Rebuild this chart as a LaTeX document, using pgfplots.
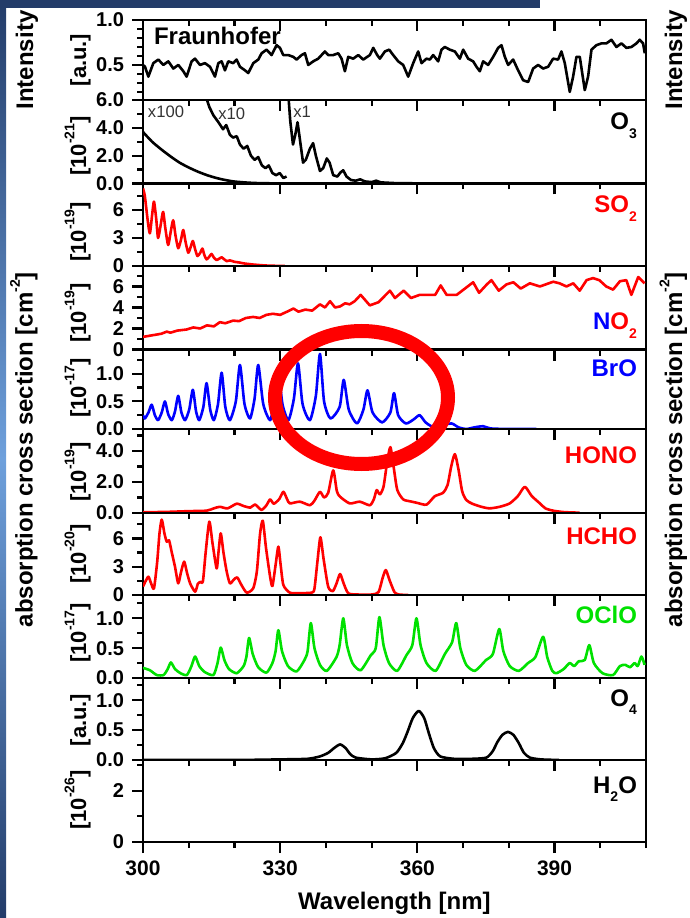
\documentclass[border=0pt]{standalone}
\usepackage{fontspec}
\setmainfont{Liberation Sans}
\usepackage{pgfplots}
\pgfplotsset{compat=1.18}
\definecolor{cred}{RGB}{255,0,0}
\definecolor{cblue}{RGB}{0,0,255}
\definecolor{cgreen}{RGB}{0,225,0}
\definecolor{navyA}{RGB}{35,60,105}
\definecolor{navyB}{RGB}{110,160,220}
\newcommand\sub[1]{\raisebox{-0.7ex}{\fontsize{7}{8}\selectfont #1}}
\newcommand\sups[1]{\raisebox{1.0ex}{\fontsize{7}{8}\selectfont #1}}
\pgfplotsset{
  panel/.style 2 args={at={(71.5pt,#1)}, anchor=south west, width=251.5pt, height=#2, scale only axis,
    xmin=300, xmax=410, xtick={300,330,360,390}, minor xtick={310,320,340,350,370,380,400,410},
    xticklabel=\empty, xtick pos=left, ytick pos=left, tick align=outside,
    major tick length=5.5pt, minor tick length=3pt,
    line width=1.3pt, tick style={line width=1.1pt, black},
    minor y tick num=1,
    yticklabel style={font=\fontsize{10}{12}\selectfont\bfseries},
    /pgf/number format/assume math mode=true},
  dec1/.style={yticklabel style={/pgf/number format/fixed, /pgf/number format/fixed zerofill, /pgf/number format/precision=1}},
  int0/.style={yticklabel style={/pgf/number format/fixed, /pgf/number format/precision=0}},
  dat/.style={no markers, line width=1.3pt, line join=round},
  sm/.style={smooth, tension=0.4},
}
\begin{document}
\begin{tikzpicture}
\useasboundingbox (0,0) rectangle (345pt,459pt);
\shade[top color=navyA, bottom color=navyA, middle color=navyB] (0,0) rectangle (3pt,459pt);
\fill[navyA] (0,455pt) rectangle (270pt,459pt);

% 1 Fraunhofer
\begin{axis}[panel={409pt}{40pt}, ymin=0.11, ymax=1.0, ytick={0,0.5,1.0}, minor y tick num=4, dec1]
\addplot[dat, black] coordinates {(300,0.50)(300.44,0.48)(301.17,0.37)(302.26,0.52)(303.35,0.56)(304.44,0.50)(305.54,0.54)(306.63,0.46)(307.72,0.50)(308.82,0.43)(309.54,0.37)(310.64,0.54)(311.37,0.57)(312.46,0.50)(313.55,0.52)(314.64,0.48)(315.74,0.37)(316.47,0.52)(317.20,0.54)(317.92,0.44)(318.65,0.54)(319.74,0.52)(320.47,0.56)(321.20,0.48)(322.30,0.44)(323.02,0.41)(324.12,0.52)(325.21,0.56)(325.94,0.63)(327.03,0.67)(328.12,0.61)(329.22,0.72)(329.95,0.69)(330.67,0.61)(331.77,0.61)(332.86,0.59)(333.59,0.56)(334.68,0.61)(335.41,0.63)(336.14,0.50)(337.23,0.54)(338.32,0.57)(339.78,0.65)(340.51,0.61)(341.60,0.61)(342.70,0.63)(343.42,0.57)(344.15,0.43)(344.88,0.59)(345.97,0.57)(347.07,0.61)(348.16,0.56)(349.62,0.61)(350.35,0.69)(351.22,0.61)(351.80,0.57)(352.90,0.65)(353.84,0.67)(354.72,0.61)(355.81,0.54)(356.90,0.50)(358.00,0.37)(359.09,0.52)(360.18,0.65)(360.91,0.52)(362.00,0.57)(362.73,0.56)(363.46,0.61)(364.55,0.54)(365.28,0.67)(366.01,0.70)(367.10,0.67)(368.20,0.65)(369.29,0.57)(370.02,0.67)(371.11,0.57)(372.20,0.54)(372.93,0.48)(373.66,0.43)(374.39,0.54)(375.48,0.50)(376.58,0.59)(377.67,0.69)(378.40,0.72)(379.13,0.59)(379.85,0.50)(380.95,0.56)(382.04,0.44)(383.13,0.33)(384.23,0.31)(385.32,0.46)(386.41,0.50)(387.50,0.46)(388.60,0.48)(389.69,0.57)(390.78,0.56)(391.51,0.65)(392.24,0.52)(393.33,0.20)(394.06,0.37)(394.79,0.59)(395.52,0.59)(396.61,0.22)(397.34,0.37)(398.07,0.67)(399.16,0.72)(400.26,0.74)(401.35,0.74)(402.44,0.78)(403.53,0.70)(404.63,0.74)(405.72,0.69)(406.81,0.70)(407.91,0.74)(408.63,0.78)(409.36,0.74)(409.73,0.63)};
\end{axis}
\begin{axis}[panel={409pt}{40pt}, ymin=0.11, ymax=1.0, ytick=\empty, xtick pos=right, tick align=inside]
\end{axis}

% 2 O3
\begin{axis}[panel={367.25pt}{41.75pt}, ymin=0, ymax=6, ytick={0,2,4,6}, dec1]
\addplot[dat, black, sm] coordinates {(300,3.7)(302,3.0)(304,2.45)(306,1.95)(308,1.5)(310,1.15)(312,0.85)(314,0.6)(316,0.4)(318,0.25)(320,0.14)(323,0.06)(326,0.02)(330,0.01)(335,0)};
\addplot[dat, black] coordinates {(313.7,6.3)(314.5,5.5)(315.4,4.9)(316.5,4.4)(317.5,3.9)(318.2,4.2)(319,3.5)(319.7,3.3)(320.5,3.4)(321.2,2.8)(322.0,2.5)(322.8,2.7)(323.6,2.0)(324.4,1.7)(325.2,1.9)(326.0,1.3)(326.8,1.1)(327.5,1.3)(328.3,0.75)(329.1,0.6)(329.9,0.75)(330.7,0.4)(331.4,0.5)};
\addplot[dat, black] coordinates {(331.8,6.3)(332.2,4.5)(332.8,2.8)(333.3,3.5)(333.8,4.4)(334.3,3.2)(335.0,1.5)(335.6,1.7)(336.5,2.5)(337.2,2.9)(337.8,2.0)(338.7,0.9)(339.4,1.1)(340.2,1.8)(340.8,1.5)(341.6,0.6)(342.5,0.5)(343.2,0.8)(343.8,0.95)(344.5,0.5)(345.5,0.25)(346.5,0.2)(347.5,0.3)(348.5,0.15)(350,0.1)(351,0.2)(352,0.08)(355,0.03)(360,0.01)(370,0)(380,0)(390,0)(400,0)(410,0)};
\end{axis}

% 3 SO2
\begin{axis}[panel={326pt}{41.25pt}, ymin=0, ymax=8.84, ytick={0,3,6,9}, int0]
\addplot[dat, cred, sm] coordinates {(300,8.3)(300.4,7.5)(301.0,5.0)(301.5,3.5)(302.0,5.5)(302.4,6.9)(302.9,5.0)(303.3,3.0)(303.9,4.5)(304.4,5.8)(304.9,4.0)(305.5,2.25)(306.0,3.5)(306.6,4.9)(307.1,3.3)(307.7,1.9)(308.3,2.8)(308.8,3.86)(309.3,2.6)(309.9,1.43)(310.4,2.0)(310.9,2.68)(311.4,1.8)(311.9,1.07)(312.5,1.4)(313.0,1.86)(313.4,1.2)(313.9,0.71)(314.5,1.0)(315.0,1.29)(315.5,0.9)(316.1,0.64)(316.7,0.8)(317.2,0.93)(317.8,0.7)(318.3,0.52)(319,0.6)(320,0.45)(321,0.38)(322,0.28)(323,0.22)(324,0.16)(325,0.12)(326,0.08)(327,0.05)(328,0.03)(330,0.01)(331,0)};
\end{axis}

% 4 NO2
\begin{axis}[panel={284.25pt}{41.75pt}, ymin=0, ymax=7.95, ytick={0,2,4,6,8}, int0]
\addplot[dat, cred] coordinates {(300,1.2)(302,1.35)(304,1.5)(305.2,1.7)(306,1.6)(307.5,1.8)(309.5,1.9)(311,2.1)(312.5,2.0)(314,2.3)(315.5,2.2)(316.8,2.6)(318,2.5)(319.7,2.75)(321,2.7)(322.5,3.0)(324.1,3.1)(325.5,3.0)(327,3.3)(328.4,3.4)(330,3.3)(331.5,3.6)(332.9,3.9)(334,3.6)(335.5,3.8)(337,3.7)(338.7,4.3)(339.8,4.0)(340.9,4.6)(342,4.0)(343.1,4.1)(344.2,4.4)(345.2,4.3)(346.3,4.6)(347.6,5.2)(349.6,4.2)(351.5,4.5)(354.0,5.6)(355.1,4.9)(357.0,5.6)(358.6,4.9)(360.5,5.2)(362.7,5.2)(363.9,5.2)(365.1,6.1)(366.4,5.2)(368.6,5.2)(370.4,5.8)(372.2,6.4)(373.5,5.4)(375.2,6.2)(376.2,6.6)(377.8,5.6)(379.5,6.2)(381,6.4)(382.6,5.8)(384.6,6.3)(386.8,6.0)(389.7,6.45)(391.1,6.3)(392.6,6.0)(394.1,6.3)(395.5,5.6)(397,6.6)(398.4,6.8)(399.8,6.6)(401.3,6.0)(402.8,5.7)(404.3,6.5)(405.7,6.6)(406.8,5.2)(408.3,6.9)(409.7,6.3)};
\end{axis}

% 5 BrO
\begin{axis}[panel={244.5pt}{39.75pt}, ymin=0, ymax=1.44, ytick={0,0.5,1.0,1.5}, dec1]
\addplot[dat, cblue, sm] coordinates {(300,0.25)(300.4,0.19)(301.2,0.3)(301.9,0.44)(302.6,0.25)(303.3,0.16)(304.1,0.3)(304.8,0.50)(305.5,0.27)(306.3,0.16)(307.0,0.32)(307.7,0.60)(308.4,0.3)(309.2,0.16)(310.1,0.35)(310.9,0.71)(311.6,0.32)(312.3,0.16)(313.2,0.4)(313.9,0.83)(314.7,0.35)(315.5,0.16)(316.4,0.45)(317.2,1.02)(318.0,0.4)(319.0,0.16)(320.3,0.5)(321.2,1.16)(322.2,0.45)(323.4,0.19)(324.4,0.55)(325.2,1.16)(326.3,0.45)(327.8,0.16)(328.7,0.5)(329.5,1.1)(330.5,0.45)(331.8,0.16)(333.0,0.55)(333.9,1.19)(334.9,0.45)(336.5,0.16)(337.8,0.6)(338.7,1.36)(339.6,0.5)(341.0,0.19)(343.0,0.4)(343.9,0.89)(345.0,0.35)(346.8,0.1)(348.2,0.35)(349.1,0.70)(350.2,0.3)(352.3,0.12)(354.1,0.3)(354.9,0.65)(355.8,0.25)(357.5,0.1)(359.3,0.18)(360.5,0.25)(361.8,0.12)(363.4,0.04)(365.5,0.07)(367.5,0.1)(369,0.03)(370.7,0.0)(372.5,0.03)(374.4,0.05)(376,0.01)(380,0.0)(386,0.0)};
\end{axis}

% 6 HONO
\begin{axis}[panel={202.5pt}{42pt}, ymin=0, ymax=5.42, ytick={0,2,4,6}, dec1]
\addplot[dat, cred, sm] coordinates {(300,0.05)(305,0.07)(310,0.12)(313.9,0.15)(315.5,0.3)(316.8,0.4)(318.5,0.3)(320.5,0.6)(322,0.45)(323.5,0.35)(324.5,0.55)(325.9,0.2)(327,0.5)(327.8,0.88)(328.6,0.6)(329.8,0.9)(330.7,1.37)(331.5,0.9)(332.1,0.62)(334.3,0.73)(336.5,0.5)(337.5,0.8)(338.7,1.37)(339.6,1.0)(340.5,1.3)(341.6,2.75)(342.4,1.4)(343.1,1.05)(345.2,0.62)(347.4,0.73)(349.6,0.5)(350.5,0.9)(351.1,1.48)(351.8,1.2)(352.6,1.7)(353.4,3.3)(354.1,4.25)(354.8,3.0)(355.6,1.5)(356.9,0.88)(358.5,0.75)(360,0.65)(362,0.54)(363.8,1.08)(365.6,1.3)(366.6,1.8)(367.4,3.0)(368.2,3.8)(369.0,2.8)(369.8,1.4)(370.7,0.84)(372,0.6)(374,0.4)(375.8,0.3)(378,0.4)(380.2,0.62)(382,1.1)(383.5,1.69)(385,1.1)(386.8,0.62)(388,0.3)(389.7,0.15)(392,0.06)(395.5,0.02)};
\end{axis}

% 7 HCHO
\begin{axis}[panel={161.5pt}{41pt}, ymin=0, ymax=8.7, ytick={0,3,6,9}, int0]
\addplot[dat, cred, sm] coordinates {(300,0.9)(300.6,1.5)(301.2,1.94)(301.8,1.2)(302.4,0.71)(303.1,3.5)(303.6,6.5)(304.1,8.0)(304.7,6.5)(305.2,5.65)(305.7,5.8)(306.3,4.5)(307.0,3.0)(307.7,1.24)(308.3,2.4)(309.0,3.54)(309.6,2.4)(310.3,1.24)(311.4,0.35)(312.0,1.2)(312.5,1.4)(313.1,1.45)(313.7,4.5)(314.5,7.78)(315.2,5.5)(316.1,2.83)(316.5,4.5)(317.0,6.54)(317.6,4.5)(318.3,2.5)(319.0,1.24)(319.8,1.6)(320.6,1.87)(321.6,1.0)(322.7,0.25)(324.1,0.71)(324.9,2.5)(325.6,6.5)(326.2,7.88)(326.9,5.0)(327.8,1.94)(328.3,0.95)(329.0,3.2)(329.6,5.13)(330.1,3.2)(330.7,1.06)(332.1,0.25)(334,0.2)(336.9,0.25)(337.5,0.7)(338.2,3.8)(338.8,6.12)(339.5,3.8)(340.5,0.88)(341.5,0.4)(342.3,1.2)(343.1,2.23)(343.9,1.2)(344.9,0.18)(347,0.05)(350,0.05)(351.5,0.3)(352.4,1.8)(353.1,2.65)(353.9,1.6)(355.0,0.3)(356,0.05)(358,0.0)};
\end{axis}

% 8 OClO
\begin{axis}[panel={120pt}{41.5pt}, ymin=0, ymax=1.39, ytick={0,0.5,1.0,1.5}, dec1]
\addplot[dat, cgreen, sm] coordinates {(300,0.17)(301.5,0.13)(303,0.05)(304.5,0.05)(305.4,0.15)(306.1,0.26)(307,0.15)(308.2,0.08)(309.6,0.05)(310.6,0.2)(311.4,0.36)(312.3,0.2)(313.5,0.1)(315.4,0.05)(316.3,0.25)(317.0,0.51)(317.8,0.3)(318.8,0.15)(320.5,0.08)(322.0,0.2)(322.6,0.35)(323.2,0.67)(324.0,0.4)(325.2,0.18)(327.0,0.09)(328.3,0.25)(329.0,0.45)(329.6,0.8)(330.4,0.45)(331.7,0.2)(333.6,0.11)(335.3,0.3)(336.0,0.45)(336.7,0.92)(337.5,0.5)(338.7,0.22)(340.2,0.12)(342.3,0.35)(343.0,0.55)(343.8,1.0)(344.6,0.55)(345.8,0.25)(347.6,0.13)(349.8,0.38)(350.9,0.5)(351.7,1.02)(352.6,0.55)(353.8,0.25)(355.6,0.12)(357.6,0.38)(358.9,0.55)(359.8,1.0)(360.7,0.55)(362.0,0.25)(364.0,0.12)(366.0,0.4)(367.6,0.6)(368.5,0.92)(369.4,0.5)(370.7,0.22)(372.6,0.12)(375.0,0.3)(376.5,0.4)(377.9,0.82)(378.8,0.45)(380.2,0.2)(382.2,0.12)(384.2,0.25)(385.8,0.35)(387.5,0.69)(388.4,0.35)(389.5,0.12)(390.4,0.08)(392.0,0.15)(393.3,0.25)(394.3,0.2)(395.3,0.28)(396.6,0.3)(397.6,0.55)(398.6,0.25)(400.5,0.08)(402.8,0.05)(404.3,0.2)(405.5,0.22)(406.5,0.18)(407.5,0.25)(408.2,0.2)(409.0,0.36)(409.7,0.22)};
\end{axis}

% 9 O4
\begin{axis}[panel={79pt}{41pt}, ymin=0, ymax=1.37, ytick={0,0.5,1.0,1.5}, dec1]
\addplot[dat, black, sm] coordinates {(300,0)(320,0.0)(330,0.01)(336,0.02)(338.7,0.06)(340.5,0.12)(341.8,0.2)(343.1,0.26)(344.3,0.2)(345.3,0.1)(346.5,0.04)(350,0.01)(353,0.03)(355.4,0.12)(356.8,0.28)(357.8,0.46)(359,0.7)(360.3,0.82)(361.5,0.7)(362.5,0.45)(363.6,0.2)(365,0.06)(368,0.02)(372,0.02)(375.1,0.04)(376.5,0.15)(377.5,0.3)(378.6,0.42)(379.8,0.47)(381.0,0.42)(382.2,0.28)(383.3,0.12)(384.6,0.04)(387,0.01)(391,0.0)};
\end{axis}

% 10 H2O
\begin{axis}[panel={38pt}{41pt}, ymin=0, ymax=3.2, ytick={0,2,4}, int0,
  xticklabels={300,330,360,390}, xticklabel style={font=\fontsize{10.5}{12}\selectfont\bfseries}]
\addplot[draw=none] coordinates {(300,0)(410,0)};
\end{axis}

% labels
\begin{scope}[font=\fontsize{12}{14}\selectfont\bfseries]
\node[rotate=90, anchor=base] at (16.6pt,429pt) {Intensity};
\node[rotate=90, anchor=base] at (16.3pt,234.2pt) {absorption cross section [cm\sups{-2}]};
\node[rotate=90, anchor=base] at (341pt,429pt) {Intensity};
\node[rotate=90, anchor=base] at (341pt,234.2pt) {absorption cross section [cm\sups{-2}]};
\node[anchor=base] at (197.2pt,4.5pt) {Wavelength [nm]};
\node[anchor=base west] at (73.5pt,436.5pt) {Fraunhofer};
\node[anchor=base east] at (322pt,394pt) {O\sub{3}};
\node[anchor=base east, cred] at (322pt,352.5pt) {SO\sub{2}};
\node[anchor=base east] at (322pt,294pt) {\textcolor{cblue}{N}\textcolor{cred}{O\sub{2}}};
\node[anchor=base east, cblue] at (322pt,270.6pt) {BrO};
\node[anchor=base east, cred] at (322pt,227.3pt) {HONO};
\node[anchor=base east, cred] at (322pt,186.5pt) {HCHO};
\node[anchor=base east, cgreen] at (322pt,147pt) {OClO};
\node[anchor=base east] at (322pt,106pt) {O\sub{4}};
\node[anchor=base east] at (322pt,62.5pt) {H\sub{2}O};
\end{scope}
\begin{scope}[font=\fontsize{11}{13}\selectfont\bfseries]
\node[rotate=90, anchor=base] at (43pt,429pt) {[a.u.]};
\node[rotate=90, anchor=base] at (43pt,386pt) {[10\sups{-21}]};
\node[rotate=90, anchor=base] at (43pt,343pt) {[10\sups{-19}]};
\node[rotate=90, anchor=base] at (43pt,302.5pt) {[10\sups{-19}]};
\node[rotate=90, anchor=base] at (43pt,265pt) {[10\sups{-17}]};
\node[rotate=90, anchor=base] at (43pt,223pt) {[10\sups{-19}]};
\node[rotate=90, anchor=base] at (43pt,182pt) {[10\sups{-20}]};
\node[rotate=90, anchor=base] at (43pt,142.5pt) {[10\sups{-17}]};
\node[rotate=90, anchor=base] at (43pt,99pt) {[a.u.]};
\node[rotate=90, anchor=base] at (43pt,59pt) {[10\sups{-26}]};
\end{scope}
\begin{scope}[font=\fontsize{8.3}{10}\selectfont, black!80]
\node[anchor=base west, inner sep=0pt] at (73.8pt,400pt) {x100};
\node[anchor=base west, inner sep=0pt] at (109pt,399pt) {x10};
\node[anchor=base west, inner sep=0pt] at (146.5pt,400pt) {x1};
\end{scope}
\draw[cred, line width=7pt] (180.75pt,260.25pt) ellipse [x radius=43.25pt, y radius=33.25pt];
\end{tikzpicture}
\end{document}
